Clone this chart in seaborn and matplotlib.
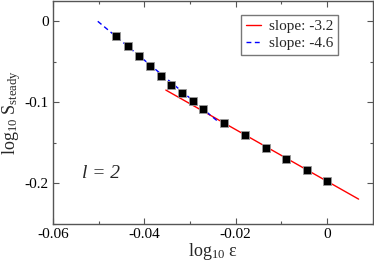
import matplotlib
matplotlib.use("Agg")
import matplotlib.pyplot as plt
import seaborn as sns
import pandas as pd
from matplotlib.ticker import MultipleLocator

# data
log_eps = [-0.0461, -0.0436, -0.0412, -0.0388, -0.0364, -0.0341, -0.0318, -0.0294,
           -0.0271, -0.0225, -0.0179, -0.0134, -0.0090, -0.0045, 0.0]
log_S = [-0.0180, -0.0307, -0.0422, -0.0549, -0.0676, -0.0783, -0.0885, -0.0980,
         -0.1082, -0.1250, -0.1406, -0.1557, -0.1697, -0.1832, -0.1967]

fit_red_x = [-0.0353, 0.0069]
fit_red_y = [-0.0848, -0.2193]
fit_blue_x = [-0.0502, -0.0240]
fit_blue_y = [0.0, -0.1230]

legend_labels = ["slope: -3.2", "slope: -4.6"]

sns.set_theme(style="ticks")
plt.rcParams["font.family"] = ["Liberation Serif", "DejaVu Serif"]
plt.rcParams["mathtext.fontset"] = "custom"
plt.rcParams["mathtext.rm"] = "Liberation Serif"
plt.rcParams["mathtext.it"] = "Liberation Serif:italic"

fig = plt.figure(figsize=(3.74, 2.62), dpi=100)
ax = fig.add_axes([0.1417, 0.145, 0.855, 0.851])

df_red = pd.DataFrame({"x": fit_red_x, "y": fit_red_y})
df_blue = pd.DataFrame({"x": fit_blue_x, "y": fit_blue_y})
sns.lineplot(data=df_red, x="x", y="y", ax=ax, color="red", lw=1.0,
             label=legend_labels[0], sort=False)
sns.lineplot(data=df_blue, x="x", y="y", ax=ax, color="blue", lw=1.0,
             label=legend_labels[1], sort=False)
ax.lines[-1].set_dashes([3.5, 2.5])

df = pd.DataFrame({"x": log_eps, "y": log_S})
sns.scatterplot(data=df, x="x", y="y", ax=ax, marker="s", s=26, color="black",
                edgecolor="#999999", linewidth=0.6, zorder=5, legend=False)

ax.set_xlim(-0.06, 0.01)
ax.set_ylim(-0.25, 0.025)
ax.xaxis.set_major_locator(MultipleLocator(0.02))
ax.xaxis.set_minor_locator(MultipleLocator(0.01))
ax.yaxis.set_major_locator(MultipleLocator(0.1))
ax.yaxis.set_minor_locator(MultipleLocator(0.05))
ax.set_xticks([-0.06, -0.04, -0.02, 0])
ax.set_xticklabels(["-0.06", "-0.04", "-0.02", "0"])
ax.set_yticks([0, -0.1, -0.2])
ax.set_yticklabels(["0", "-0.1", "-0.2"])
ax.tick_params(which="both", direction="in", top=True, right=True, colors="#555555",
               labelcolor="black", labelsize=11, pad=3)
ax.tick_params(which="major", length=4.5, width=0.8)
ax.tick_params(which="minor", length=2.5, width=0.8)
for s in ax.spines.values():
    s.set_color("#555555")
    s.set_linewidth(1.0)

ax.set_xlabel(r"log$_{10}$ ε", fontsize=13, labelpad=0)
ax.set_ylabel(r"log$_{10}$ S$_{\mathrm{steady}}$", fontsize=13)
ax.yaxis.set_label_coords(-0.095, 0.5)

ax.text(-0.0537, -0.193, "l = 2", fontsize=14, style="italic")

leg = ax.legend(loc="upper right", bbox_to_anchor=(0.89, 0.937), fontsize=11,
                frameon=True, fancybox=False, handlelength=1.0, handletextpad=0.5,
                borderpad=0.3, labelspacing=0.2, borderaxespad=0)
leg.get_frame().set_edgecolor("#555555")
leg.get_frame().set_linewidth(1.0)

fig.savefig("out.png", dpi=100)
